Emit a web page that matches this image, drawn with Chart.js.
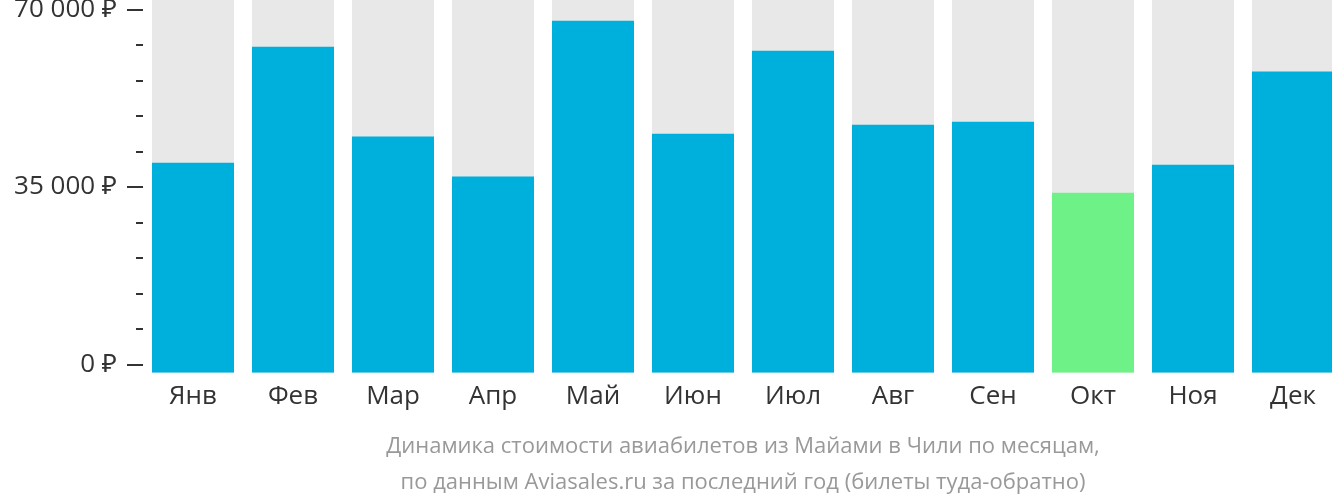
<!DOCTYPE html>
<html>
<head>
<meta charset="utf-8">
<script src="https://cdn.jsdelivr.net/npm/chart.js@4/dist/chart.umd.min.js"></script>
<style>
  html, body { margin: 0; padding: 0; background: #fff; overflow: hidden; }
  #wrap { width: 1343px; height: 502px; position: relative; }
</style>
</head>
<body>
<div id="wrap"><canvas id="priceChart"></canvas></div>
<script>
const months = ['Янв', 'Фев', 'Мар', 'Апр', 'Май', 'Июн', 'Июл', 'Авг', 'Сен', 'Окт', 'Ноя', 'Дек'];
const prices = [39800, 62700, 45000, 37100, 67800, 45500, 61900, 47300, 47900, 33900, 39400, 57800];
const cheapestMonth = 'Окт';
const tickValues = [0, 7000, 14000, 21000, 28000, 35000, 42000, 49000, 56000, 63000, 70000];
const labelledTicks = [0, 35000, 70000];
const axisMin = -1600;
const axisMax = 71900;

const barColors = months.map(m => m === cheapestMonth ? '#6EF287' : '#00B0DC');
const fontFamily = '"Open Sans", "Noto Sans", sans-serif';

// short and long tick marks on the left of the value axis
const tickMarks = {
  id: 'tickMarks',
  afterDraw(chart) {
    const ctx = chart.ctx;
    const y = chart.scales.y;
    const left = chart.chartArea.left;
    ctx.save();
    ctx.strokeStyle = '#333';
    ctx.lineWidth = 2;
    tickValues.forEach(v => {
      const py = Math.round(y.getPixelForValue(v));
      const len = labelledTicks.includes(v) ? 16 : 7;
      ctx.beginPath();
      ctx.moveTo(left - len, py);
      ctx.lineTo(left, py);
      ctx.stroke();
    });
    ctx.restore();
  }
};

new Chart(document.getElementById('priceChart').getContext('2d'), {
  type: 'bar',
  data: {
    labels: months,
    datasets: [{
      data: prices,
      backgroundColor: barColors,
      base: axisMin,
      order: 1
    }, {
      data: months.map(() => axisMax),
      backgroundColor: '#E8E8E8',
      base: axisMin,
      order: 2
    }]
  },
  plugins: [tickMarks],
  options: {
    responsive: true,
    maintainAspectRatio: false,
    animation: false,
    layout: { padding: 0 },
    datasets: {
      bar: {
        grouped: false,
        barPercentage: 0.82,
        categoryPercentage: 1
      }
    },
    plugins: {
      legend: { display: false },
      tooltip: { enabled: false },
      title: {
        display: true,
        position: 'bottom',
        fullSize: false,
        text: ['Динамика стоимости авиабилетов из Майами в Чили по месяцам,',
               'по данным Aviasales.ru за последний год (билеты туда-обратно)'],
        color: '#999',
        font: { family: fontFamily, size: 22, weight: 'normal', lineHeight: 1.64 },
        padding: { top: 9, bottom: 1 }
      }
    },
    scales: {
      x: {
        grid: { display: false, drawTicks: false },
        border: { display: false },
        afterFit: scale => { scale.paddingLeft = 0; scale.paddingRight = 0; },
        ticks: {
          color: '#333',
          padding: 8,
          maxRotation: 0,
          font: { family: fontFamily, size: 26 }
        }
      },
      y: {
        min: axisMin,
        max: axisMax,
        afterBuildTicks: scale => { scale.ticks = tickValues.map(v => ({ value: v })); },
        afterFit: scale => {
          scale.width = 143;
          scale.paddingTop = 0;
          scale.paddingBottom = 0;
        },
        grid: { display: false, drawTicks: false },
        border: { display: false },
        ticks: {
          color: '#333',
          padding: 26,
          autoSkip: false,
          font: { family: fontFamily, size: 26 },
          callback: v => labelledTicks.includes(v)
            ? v.toLocaleString('ru-RU').replace(/\s/g, ' ') + ' ₽'
            : ''
        }
      }
    }
  }
});
</script>
</body>
</html>
